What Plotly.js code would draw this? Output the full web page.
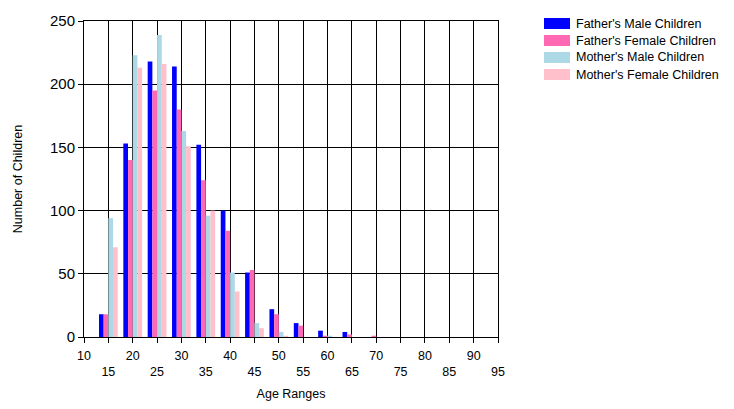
<!DOCTYPE html>
<html>
<head>
<meta charset="utf-8">
<script src="https://cdn.plot.ly/plotly-3.0.1.min.js"></script>
<style>html,body{margin:0;padding:0;background:#fff;}#chart{width:734px;height:409px;}</style>
</head>
<body>
<div id="chart"></div>
<script>
var ageRanges = [15, 20, 25, 30, 35, 40, 45, 50, 55, 60, 65, 70, 75, 80, 85, 90];
var fatherMale   = [18, 153, 218, 214, 152, 100, 51, 22, 11, 5, 4, 0, 0, 0, 0, 0];
var fatherFemale = [18, 140, 195, 180, 124, 84, 53, 18, 9, 1, 2, 1, 0, 0, 0, 0];
var motherMale   = [94, 223, 239, 163, 96, 51, 11, 4, 0, 1, 0, 0, 0, 0, 0, 0];
var motherFemale = [71, 213, 216, 151, 100, 36, 7, 1, 0, 0, 0, 0, 0, 0, 0, 0];
var seriesNames = ["Father's Male Children", "Father's Female Children", "Mother's Male Children", "Mother's Female Children"];
var seriesColors = ['#0000FF', '#FF69B4', '#ADD8E6', '#FFC0CB'];
var tickValues = [10, 15, 20, 25, 30, 35, 40, 45, 50, 55, 60, 65, 70, 75, 80, 85, 90, 95];

var seriesData = [fatherMale, fatherFemale, motherMale, motherFemale];
var traces = seriesData.map(function (vals, i) {
  return {
    type: 'bar', x: ageRanges, y: vals, name: seriesNames[i],
    marker: {color: seriesColors[i], line: {width: 0}},
    showlegend: false, hoverinfo: 'x+y+name'
  };
});

var tickText = tickValues.map(function (v, i) { return i % 2 === 0 ? String(v) : ' <br>' + v; });

// plot area in pixels
var L = 84, R = 498, T = 21, B = 337, W = 734, H = 409;
function px(x) { return (x - L) / (R - L); }
function py(y) { return (B - y) / (B - T); }

var shapes = [], annotations = [];
for (var k = 0; k < seriesNames.length; k++) {
  var boxTop = 18 + k * 17;
  shapes.push({type: 'rect', xref: 'paper', yref: 'paper',
    x0: px(544), x1: px(570), y0: py(boxTop + 11), y1: py(boxTop),
    fillcolor: seriesColors[k], line: {width: 0}, layer: 'above'});
  annotations.push({xref: 'paper', yref: 'paper', x: px(574), y: py(boxTop + 5.5),
    xanchor: 'left', yanchor: 'middle', showarrow: false, text: seriesNames[k],
    font: {family: 'Liberation Sans, Arial, sans-serif', size: 12.5, color: '#000'}});
}

var layout = {
  width: W, height: H,
  margin: {l: L, r: W - R, t: T, b: H - B, pad: 0},
  paper_bgcolor: '#fff', plot_bgcolor: '#fff',
  barmode: 'group', bargap: 0.23, bargroupgap: 0,
  showlegend: false,
  font: {family: 'Liberation Sans, Arial, sans-serif', color: '#000'},
  xaxis: {
    range: [10, 95], tickmode: 'array', tickvals: tickValues, ticktext: tickText,
    showgrid: true, gridcolor: '#000', gridwidth: 1,
    showline: true, linecolor: '#000', linewidth: 1, mirror: true,
    ticks: 'outside', ticklen: 5, tickcolor: '#000', zeroline: false,
    ticklabelstandoff: 2,
    tickfont: {size: 12.5, color: '#000'},
    title: {text: 'Age Ranges', font: {size: 12.5}, standoff: 10}
  },
  yaxis: {
    range: [0, 250], dtick: 50, tick0: 0,
    showgrid: true, gridcolor: '#000', gridwidth: 1,
    showline: true, linecolor: '#000', linewidth: 1, mirror: true,
    ticks: 'outside', ticklen: 5, tickcolor: '#000', zeroline: false,
    tickfont: {size: 15, color: '#000'},
    title: {text: 'Number of Children', font: {size: 12.5}, standoff: 24}
  },
  shapes: shapes,
  annotations: annotations
};

Plotly.newPlot('chart', traces, layout, {displayModeBar: false, staticPlot: true});
</script>
</body>
</html>
